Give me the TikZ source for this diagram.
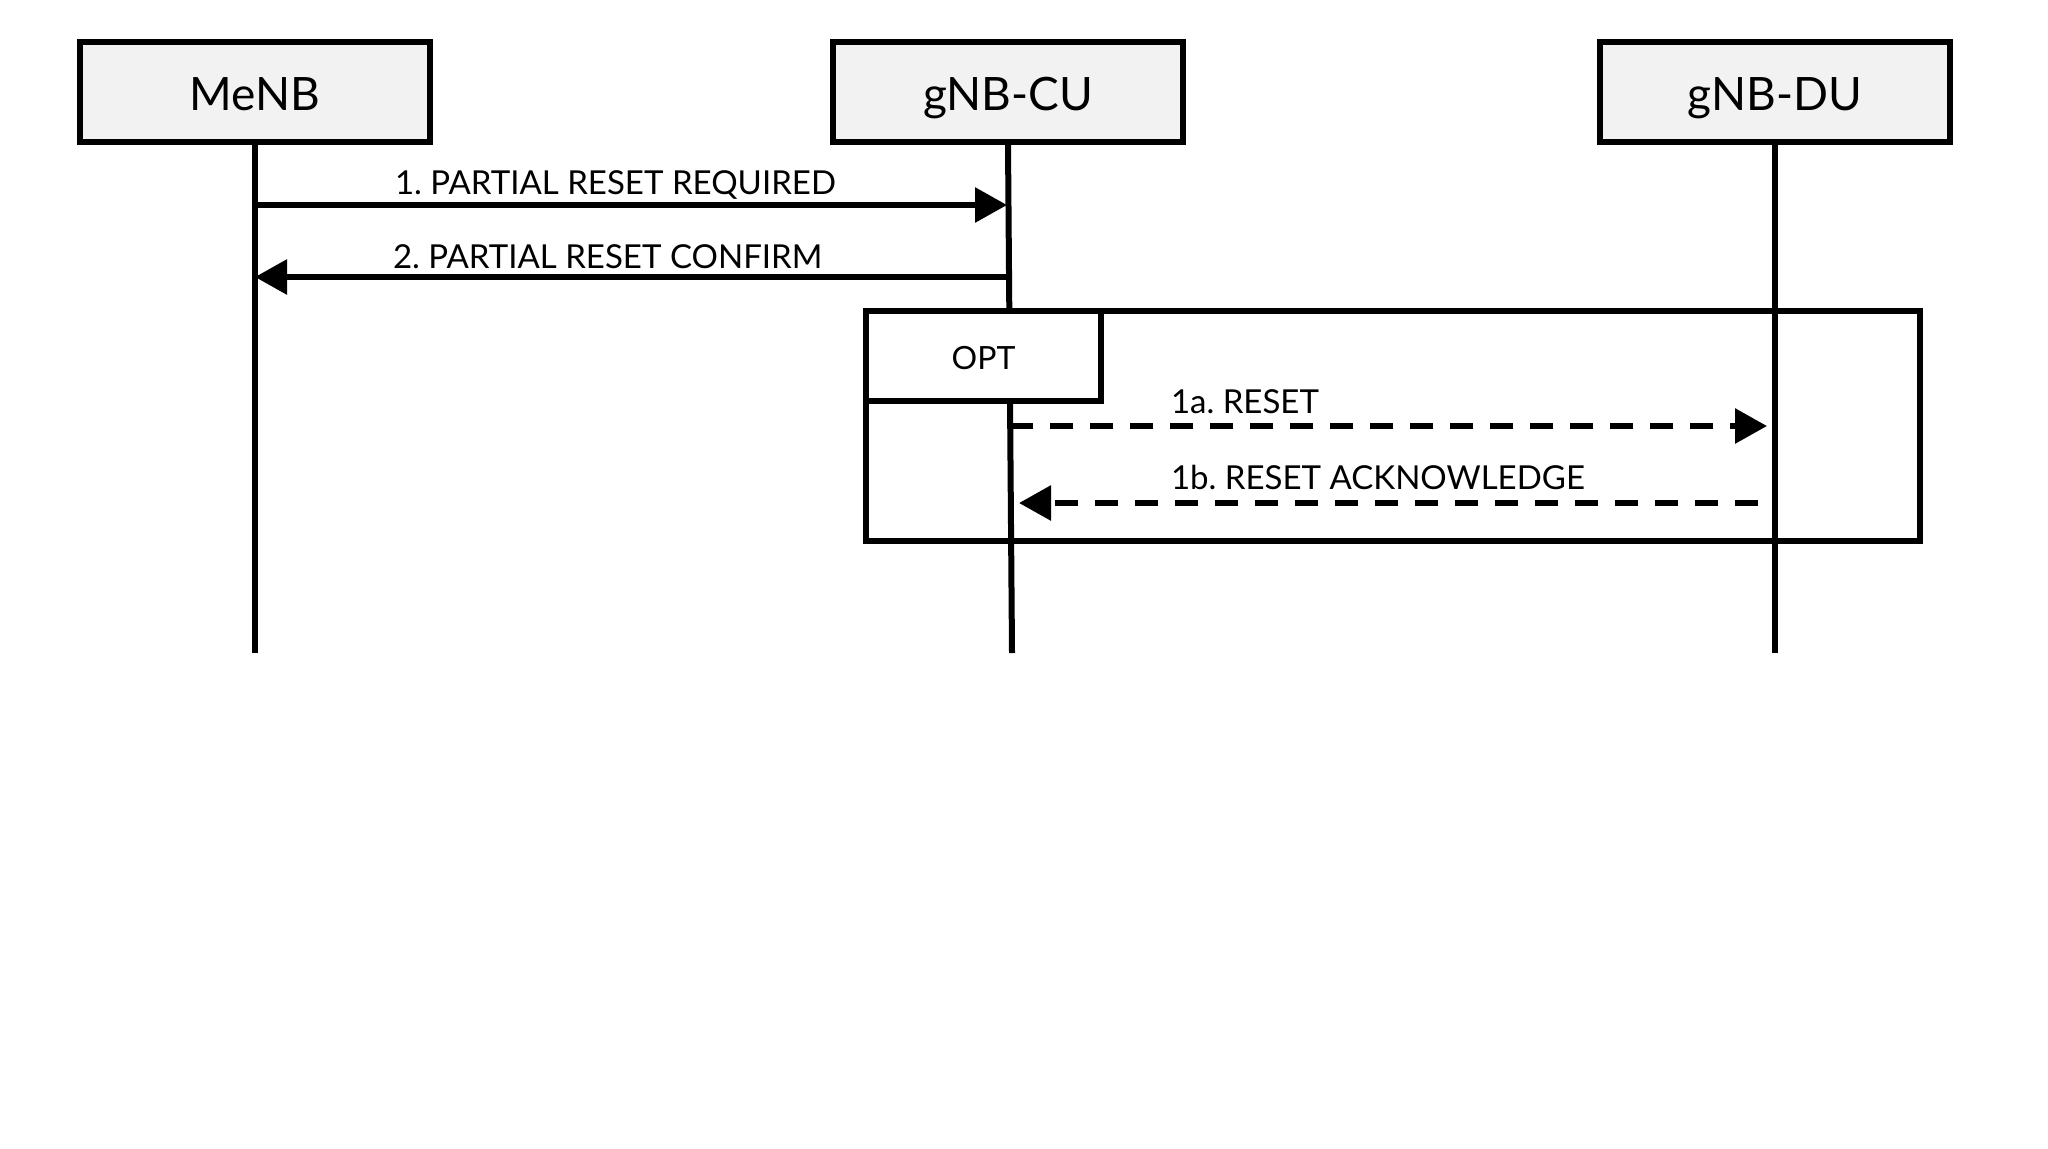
\documentclass[tikz,border=0pt]{standalone}
\usepackage{fontspec}
\setmainfont{Lato}
\frenchspacing
\usetikzlibrary{arrows.meta}
\definecolor{boxgray}{HTML}{F2F2F2}
\begin{document}
\begin{tikzpicture}[x=0.5pt,y=-0.5pt,
  line width=3pt,
  entity/.style={draw=black,fill=boxgray,line width=3pt,minimum height=50pt,
    minimum width=175pt,inner sep=0pt,text height=18pt,text depth=0pt,
    font=\fontsize{23}{27}\selectfont},
  lifeline/.style={line width=3pt},
  msg/.style={line width=3pt,-{Triangle[length=16pt,width=17pt]}},
  dmsg/.style={msg,dash pattern=on 11.5pt off 8.5pt},
  lbl/.style={anchor=base west,inner sep=0pt,font=\fontsize{16.5}{20}\selectfont},
  frame/.style={draw=black,line width=3pt},
  tab/.style={draw=black,fill=white,line width=3pt,minimum width=117.5pt,
    minimum height=45pt,inner sep=0pt,text height=13.5pt,text depth=0pt,
    font=\fontsize{16}{20}\selectfont}]
\useasboundingbox[fill=white] (0,0) rectangle (2048,1148);

% entities
\node[entity] (menb) at (255,92) {MeNB};
\node[entity] (cu) at (1008,92) {gNB-CU};
\node[entity] (du) at (1775,92) {gNB-DU};

% lifeline ends
\coordinate (menbend) at (255,653);
\coordinate (cuend) at (1012,653);
\coordinate (duend) at (1775,653);

\draw[lifeline] (menb.south) -- (menbend);
\draw[lifeline] (cu.south) -- (cuend);
\draw[lifeline] (du.south) -- (duend);

% message endpoints
\coordinate (m1a) at (255,205);
\coordinate (m1b) at (1007,205);
\coordinate (m2a) at (1008,277);
\coordinate (m2b) at (255,277);
\coordinate (m3a) at (1010,426);
\coordinate (m3b) at (1767,426);
\coordinate (m4a) at (1758,503);
\coordinate (m4b) at (1019,503);

\draw[msg] (m1a) -- (m1b);
\draw[msg] (m2a) -- (m2b);

% OPT frame
\node[frame,rectangle,minimum width=527pt,minimum height=115pt,inner sep=0pt] (optframe) at (1393,426) {};
\node[tab] (opt) at (983.5,356) {OPT};

\draw[dmsg] (m3a) -- (m3b);
\draw[dmsg] (m4a) -- (m4b);

% labels
\node[lbl] (l1) at (392,194) {1. PARTIAL RESET REQUIRED};
\node[lbl] (l2) at (390,268) {2. PARTIAL RESET CONFIRM};
\node[lbl] (l3) at (1168,413) {1a. RESET};
\node[lbl] (l4) at (1168,489) {1b. RESET ACKNOWLEDGE};
\end{tikzpicture}
\end{document}
